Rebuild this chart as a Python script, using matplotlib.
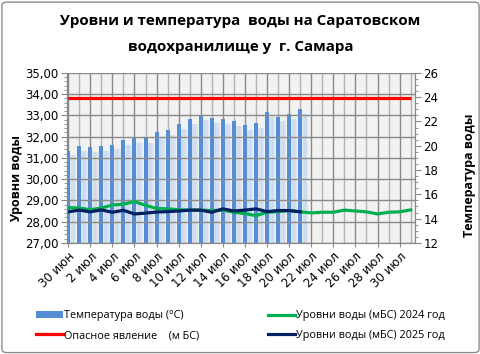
import numpy as np
import matplotlib
matplotlib.use('Agg')
import matplotlib.pyplot as plt
from matplotlib.patches import Patch, FancyBboxPatch
from matplotlib.lines import Line2D
from matplotlib.ticker import MultipleLocator, FuncFormatter

# даты 30 июн .. 31 июл
dates = ['30 июн'] + ['%d июл' % d for d in range(1, 32)]

# температура воды, °C (30 июн - 21 июл)
temp = [19.6, 20.0, 19.9, 20.0, 20.1, 20.5, 20.6, 20.6, 21.1, 21.3, 21.8,
        22.2, 22.5, 22.3, 22.2, 22.0, 21.7, 21.9, 22.8, 22.4, 22.6, 23.05]

# уровни воды 2024 (весь период)
lvl_2024 = [28.66, 28.64, 28.56, 28.64, 28.78, 28.82, 28.94, 28.77, 28.62, 28.60,
            28.56, 28.54, 28.54, 28.52, 28.54, 28.44, 28.38, 28.28, 28.44, 28.47,
            28.52, 28.46, 28.41, 28.44, 28.44, 28.54, 28.50, 28.46, 28.36, 28.44,
            28.46, 28.55]

# уровни воды 2025 (30 июн - 21 июл)
lvl_2025 = [28.46, 28.54, 28.46, 28.55, 28.44, 28.53, 28.36, 28.40, 28.45, 28.47,
            28.50, 28.54, 28.54, 28.44, 28.60, 28.50, 28.54, 28.60, 28.47, 28.52,
            28.52, 28.46]

danger = 33.8

x_all = np.arange(len(dates))
x_t = np.arange(len(temp))

c_bar = '#558ed5'
c_2024 = '#00b050'
c_red = '#ff0000'
c_2025 = '#002060'

fig = plt.figure(figsize=(4.81, 3.54), dpi=100)
fig.patch.set_facecolor('white')
fig.patches.append(FancyBboxPatch((0.004, 0.004), 0.992, 0.99, boxstyle='round,pad=0,rounding_size=0.01',
                                  transform=fig.transFigure, fill=False, edgecolor='#8c8c8c', lw=1))

ax = fig.add_axes([0.139, 0.314, 0.724, 0.480])
ax2 = ax.twinx()
ax.set_zorder(ax2.get_zorder() + 1)
ax.patch.set_visible(False)
ax2.patch.set_visible(True)
ax2.patch.set_facecolor('#f2f2f2')
ax2.xaxis.set_visible(True)
ax2.tick_params(axis='x', which='both', bottom=False, top=False,
                labelbottom=False, labeltop=False)

# столбцы температуры с мягкой тенью
for k in range(1, 5):
    ax2.bar(x_t + 0.12 + 0.12 * k, np.array(temp) - 0.4, width=0.3, color='#c3d4ed',
            alpha=0.4, zorder=2, linewidth=0)
ax2.bar(x_t, temp, width=0.36, color=c_bar, zorder=3, linewidth=0)

ax.plot(x_all, [danger] * len(dates), color=c_red, lw=2.3, solid_capstyle='butt')
ax.plot(x_all, lvl_2024, color=c_2024, lw=2.3)
ax.plot(x_t, lvl_2025, color=c_2025, lw=2.3)

ax.set_xlim(-0.12, 31.4)
ax.set_ylim(27, 35)
ax2.set_ylim(12, 26)

ax.set_xticks(x_all[::2])
ax.set_xticklabels(dates[::2], rotation=45, ha='right', rotation_mode='anchor',
                   fontsize=8.5, family='DejaVu Sans')
ax.xaxis.set_minor_locator(MultipleLocator(1))
ax.tick_params(axis='x', which='major', length=3, color='#888888', pad=2)
ax.tick_params(axis='x', which='minor', length=0)

ax.yaxis.set_major_locator(MultipleLocator(1))
ax.yaxis.set_minor_locator(MultipleLocator(0.2))
ax.yaxis.set_major_formatter(FuncFormatter(lambda v, p: ('%.2f' % v).replace('.', ',')))
ax.tick_params(axis='y', which='major', length=4, color='#888888', labelsize=8.5, pad=2)
ax.tick_params(axis='y', which='minor', length=2.5, color='#888888')

ax2.yaxis.set_major_locator(MultipleLocator(2))
ax2.yaxis.set_minor_locator(MultipleLocator(0.5))
ax2.tick_params(axis='y', which='major', length=4, color='#888888', labelsize=8.5, pad=2)
ax2.tick_params(axis='y', which='minor', length=2.5, color='#888888')
for lab in ax.get_yticklabels() + ax2.get_yticklabels():
    lab.set_family('DejaVu Sans')

# сетка: вертикальная под столбцами, горизонтальная сверху
ax2.set_axisbelow(True)
ax2.grid(axis='x', which='major', color='#8a8a8a', lw=1)
ax2.grid(axis='x', which='minor', color='#b4b4b4', lw=1)
ax.grid(axis='y', which='major', color='#8a8a8a', lw=1)

for a in (ax, ax2):
    for s in a.spines.values():
        s.set_color('#888888')
    a.spines['top'].set_visible(False)

fig.text(0.5, 0.94, 'Уровни и температура  воды на Саратовском', ha='center', va='center',
         fontsize=10.9, fontweight='bold', family='Open Sans')
fig.text(0.5, 0.867, 'водохранилище у  г. Самара', ha='center', va='center',
         fontsize=10.9, fontweight='bold', family='Open Sans')
fig.text(0.034, 0.495, 'Уровни воды', rotation=90, ha='center', va='center',
         fontsize=9, fontweight='bold', family='Open Sans')
fig.text(0.977, 0.505, 'Температура воды', rotation=90, ha='center', va='center',
         fontsize=9, fontweight='bold', family='Open Sans')

handles = [Patch(facecolor=c_bar, edgecolor='none'),
           Line2D([], [], color=c_red, lw=2.3),
           Line2D([], [], color=c_2024, lw=2.3),
           Line2D([], [], color=c_2025, lw=2.3)]
labels = ['Температура воды (°С)', 'Опасное явление    (м БС)',
          'Уровни воды (мБС) 2024 год', 'Уровни воды (мБС) 2025 год']
fig.legend(handles, labels, ncol=2, loc='center', bbox_to_anchor=(0.5, 0.08),
           frameon=False, prop={'family': 'Open Sans', 'size': 7.8},
           handlelength=2.5, handletextpad=0.1, columnspacing=6.3, labelspacing=0.8)

fig.savefig('out.png', dpi=100)
